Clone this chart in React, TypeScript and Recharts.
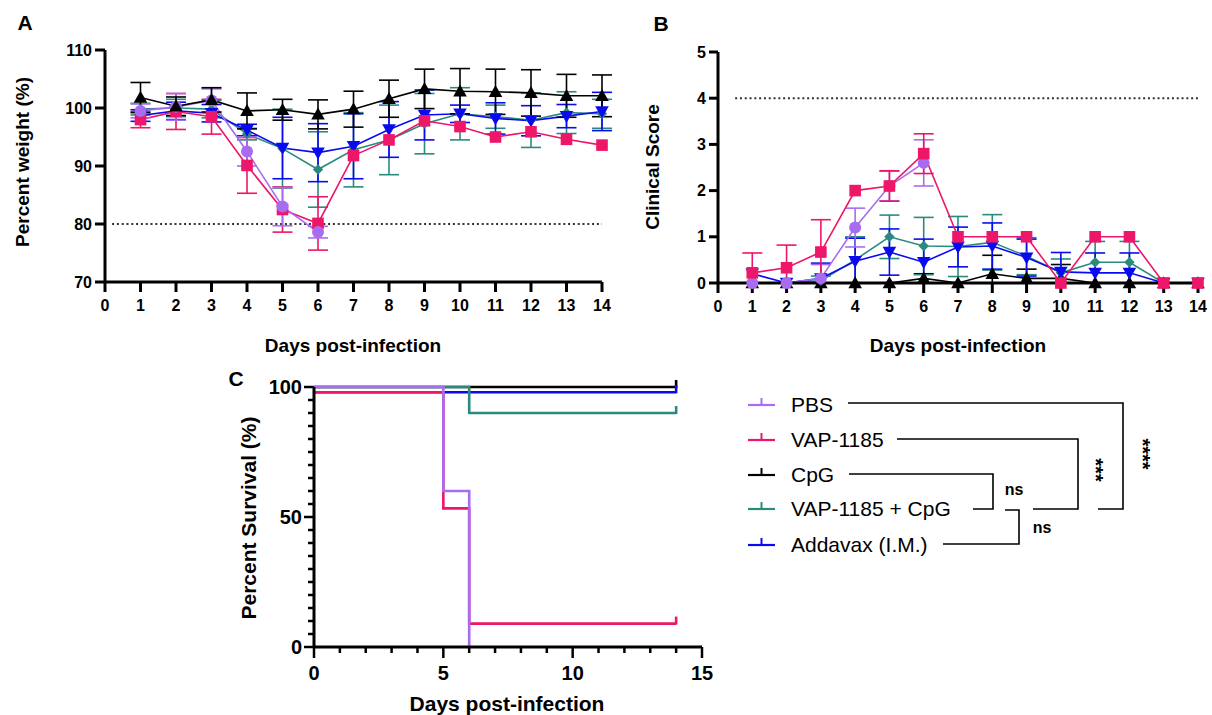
import React from 'react';
import { LineChart, Line, XAxis, YAxis, ErrorBar, ReferenceLine } from 'recharts';

const FONT = '"Liberation Sans", Arial, Helvetica, sans-serif';

// ---------- categories / ticks ----------
const days = [1, 2, 3, 4, 5, 6, 7, 8, 9, 10, 11, 12, 13, 14];
const dayTicks = [0, 1, 2, 3, 4, 5, 6, 7, 8, 9, 10, 11, 12, 13, 14];
const weightTicks = [70, 80, 90, 100, 110];
const scoreTicks = [0, 1, 2, 3, 4, 5];
const survXTicks = [0, 1, 2, 3, 4, 5, 6, 7, 8, 9, 10, 11, 12, 13, 14, 15];
const survYTicks = [0, 5, 10, 15, 20, 25, 30, 35, 40, 45, 50, 55, 60, 65, 70, 75, 80, 85, 90, 95, 100];
const groupNames = ['PBS', 'VAP-1185', 'CpG', 'VAP-1185 + CpG', 'Addavax (I.M.)'];

// ---------- Panel A: percent weight (mean, SD) ----------
const pbsW = [99.5, 100.2, 101.3, 92.5, 83.0, 78.6];
const pbsWsd = [1.2, 2.3, 2.0, 2.5, 3.3, 1.0];
const vapW = [98.0, 99.4, 98.5, 90.1, 82.5, 80.1, 91.8, 94.5, 97.8, 96.8, 95.0, 95.9, 94.6, 93.6];
const vapWsd = [1.4, 3.1, 3.0, 4.8, 3.9, 4.6, 0, 0, 0, 0, 0, 0, 0, 0];
const cpgW = [101.8, 100.3, 101.4, 99.5, 99.7, 98.9, 99.8, 101.6, 103.3, 102.9, 102.8, 102.6, 102.1, 102.1];
const cpgWsd = [2.6, 1.6, 2.1, 3.1, 1.8, 2.5, 3.1, 3.2, 3.4, 3.9, 3.9, 4.0, 3.7, 3.6];
const comboW = [99.8, 100.0, 99.8, 95.5, 93.0, 89.4, 92.8, 94.5, 97.3, 99.0, 98.5, 97.9, 99.2, 99.0];
const comboWsd = [1.0, 1.5, 1.5, 1.0, 6.8, 6.5, 6.4, 6.0, 5.2, 4.5, 2.0, 4.7, 3.6, 2.5];
const addaW = [98.7, 99.5, 99.1, 96.2, 93.1, 92.3, 93.4, 96.3, 98.8, 99.0, 98.2, 97.8, 98.6, 99.4];
const addaWsd = [1.0, 1.5, 1.5, 1.0, 5.3, 5.0, 5.6, 4.8, 4.3, 1.5, 2.7, 2.6, 2.0, 3.3];

// ---------- Panel B: clinical score (mean, SD) ----------
const pbsC = [0, 0, 0.1, 1.2, 2.1, 2.6];
const pbsCsd = [0, 0, 0.3, 0.42, 0.32, 0.5];
const vapC = [0.22, 0.33, 0.67, 2.0, 2.1, 2.8, 1, 1, 1, 0, 1, 1, 0, 0];
const vapCsd = [0.43, 0.49, 0.7, 0, 0.33, 0.43, 0, 0, 0, 0, 0, 0, 0, 0];
const cpgC = [0, 0, 0, 0, 0, 0.1, 0, 0.2, 0.1, 0.1, 0, 0, 0, 0];
const cpgCsd = [0, 0, 0, 0, 0, 0.1, 0, 0.4, 0.2, 0.3, 0, 0, 0, 0];
const comboC = [0, 0, 0.05, 0.5, 1.0, 0.8, 0.79, 0.88, 0.58, 0.22, 0.45, 0.45, 0, 0];
const comboCsd = [0, 0, 0.1, 0.5, 0.47, 0.62, 0.65, 0.6, 0.4, 0.3, 0.45, 0.45, 0, 0];
const addaC = [0.2, 0, 0.1, 0.47, 0.67, 0.45, 0.78, 0.8, 0.55, 0.24, 0.22, 0.22, 0, 0];
const addaCsd = [0, 0, 0.33, 0.5, 0.5, 0.5, 0.43, 0.5, 0.4, 0.42, 0.43, 0.43, 0, 0];

// ---------- Panel C: survival (step points) ----------
const survPBSdays = [0, 5, 6];
const survPBS = [100, 60, 0];
const survVAPdays = [0, 5, 6, 14];
const survVAP = [98, 53.3, 9, 9];
const survCpGdays = [0, 14];
const survCpG = [100, 100];
const survComboDays = [0, 6, 14];
const survCombo = [100, 90, 90];
const survAddaDays = [0, 14];
const survAdda = [98, 98];

// ---------- styles ----------
const C_PBS = '#A86CF0';
const C_VAP = '#EE1668';
const C_CPG = '#000000';
const C_COMBO = '#2B8A7E';
const C_ADDA = '#0A0AF0';

// error bars are drawn as [below, above]; the lower arm stops at the axis floor
const mk = (xs: number[], ys: number[], sds?: number[], floor = -Infinity) =>
  ys.map((v, i) => {
    const sd = sds ? sds[i] : 0;
    return { day: xs[i], v, sd: sd ? [Math.min(sd, v - floor), sd] : 0 };
  });

type Shape = 'circle' | 'square' | 'triUp' | 'triDown' | 'diamond';

function Marker({ cx, cy, shape, color }: { cx: number; cy: number; shape: Shape; color: string }) {
  if (cx == null || cy == null || isNaN(cx) || isNaN(cy)) return <g />;
  switch (shape) {
    case 'circle':
      return <circle cx={cx} cy={cy} r={6} fill={color} />;
    case 'square':
      return <rect x={cx - 5.8} y={cy - 5.8} width={11.6} height={11.6} fill={color} />;
    case 'triUp':
      return <polygon points={`${cx},${cy - 6.8} ${cx + 6.8},${cy + 5.2} ${cx - 6.8},${cy + 5.2}`} fill={color} />;
    case 'triDown':
      return <polygon points={`${cx},${cy + 6.8} ${cx + 6.8},${cy - 5.2} ${cx - 6.8},${cy - 5.2}`} fill={color} />;
    default:
      return <polygon points={`${cx},${cy - 5.2} ${cx + 5.2},${cy} ${cx},${cy + 5.2} ${cx - 5.2},${cy}`} fill={color} />;
  }
}

const dotFn = (shape: Shape, color: string) => (p: any) => (
  <Marker key={`d-${shape}-${p.index}`} cx={p.cx} cy={p.cy} shape={shape} color={color} />
);

const axisStyle = { stroke: '#000', strokeWidth: 3 };
const tickFont = { fill: '#000', fontSize: 16, fontWeight: 700, fontFamily: FONT };

const seriesA = [
  { key: 'combo', data: mk(days, comboW, comboWsd, 70), color: C_COMBO, shape: 'diamond' as Shape },
  { key: 'adda', data: mk(days, addaW, addaWsd, 70), color: C_ADDA, shape: 'triDown' as Shape },
  { key: 'vap', data: mk(days, vapW, vapWsd, 70), color: C_VAP, shape: 'square' as Shape },
  { key: 'pbs', data: mk(days, pbsW, pbsWsd, 70), color: C_PBS, shape: 'circle' as Shape },
  { key: 'cpg', data: mk(days, cpgW, cpgWsd, 70), color: C_CPG, shape: 'triUp' as Shape },
];

const seriesB = [
  { key: 'cpg', data: mk(days, cpgC, cpgCsd, 0), color: C_CPG, shape: 'triUp' as Shape },
  { key: 'combo', data: mk(days, comboC, comboCsd, 0), color: C_COMBO, shape: 'diamond' as Shape },
  { key: 'adda', data: mk(days, addaC, addaCsd, 0), color: C_ADDA, shape: 'triDown' as Shape },
  { key: 'pbs', data: mk(days, pbsC, pbsCsd, 0), color: C_PBS, shape: 'circle' as Shape },
  { key: 'vap', data: mk(days, vapC, vapCsd, 0), color: C_VAP, shape: 'square' as Shape },
];

const seriesC = [
  { key: 'cpg', data: mk(survCpGdays, survCpG), color: C_CPG, censor: true },
  { key: 'adda', data: mk(survAddaDays, survAdda), color: C_ADDA, censor: true },
  { key: 'combo', data: mk(survComboDays, survCombo), color: C_COMBO, censor: true },
  { key: 'vap', data: mk(survVAPdays, survVAP), color: C_VAP, censor: true },
  { key: 'pbs', data: mk(survPBSdays, survPBS), color: C_PBS, censor: false },
];

const legendColors = [C_PBS, C_VAP, C_CPG, C_COMBO, C_ADDA];

function renderSeries(list: typeof seriesA) {
  return list.map((s) => (
    <Line
      key={s.key}
      data={s.data}
      dataKey="v"
      type="linear"
      stroke={s.color}
      strokeWidth={1.6}
      dot={dotFn(s.shape, s.color)}
      activeDot={false}
      isAnimationActive={false}
    >
      <ErrorBar dataKey="sd" direction="y" width={10} stroke={s.color} strokeWidth={1.6} />
    </Line>
  ));
}

const CXTick = (props: any) => {
  const { x, y, payload } = props;
  const major = payload.value % 5 === 0;
  return (
    <g>
      <line x1={x} x2={x} y1={y} y2={y + (major ? 11 : 6)} stroke="#000" strokeWidth={2.5} />
      {major && (
        <text x={x} y={y + 33} textAnchor="middle" fontFamily={FONT} fontWeight={700} fontSize={20} fill="#000">
          {payload.value}
        </text>
      )}
    </g>
  );
};

const CYTick = (props: any) => {
  const { x, y, payload } = props;
  const major = payload.value % 50 === 0;
  return (
    <g>
      <line x1={x} x2={x - (major ? 10 : 6)} y1={y} y2={y} stroke="#000" strokeWidth={2.5} />
      {major && (
        <text x={x - 12} y={y + 7} textAnchor="end" fontFamily={FONT} fontWeight={700} fontSize={20} fill="#000">
          {payload.value}
        </text>
      )}
    </g>
  );
};

const T = ({ x, y, size, children, rotate, weight = 700, anchor = 'middle' }: any) => (
  <text
    x={x}
    y={y}
    fontFamily={FONT}
    fontSize={size}
    fontWeight={weight}
    textAnchor={anchor}
    dominantBaseline="central"
    fill="#000"
    transform={rotate ? `rotate(${rotate} ${x} ${y})` : undefined}
  >
    {children}
  </text>
);

export default function App() {
  const legendY = [404, 439, 474, 508, 544];
  return (
    <div style={{ position: 'absolute', left: 0, top: 0, width: 1212, height: 715, background: '#fff', overflow: 'hidden' }}>
      {/* Panel A */}
      <div style={{ position: 'absolute', left: 0, top: 0 }}>
        <LineChart width={620} height={360} margin={{ top: 50, right: 18, bottom: 0, left: 0 }}>
          <XAxis type="number" dataKey="day" domain={[0, 14]} ticks={dayTicks} interval={0} height={78}
            tickSize={10} tickMargin={8} axisLine={axisStyle} tickLine={axisStyle} tick={tickFont} />
          <YAxis type="number" domain={[70, 110]} ticks={weightTicks} interval={0} width={105}
            tickSize={10} tickMargin={3} axisLine={axisStyle} tickLine={axisStyle} tick={tickFont} />
          <ReferenceLine segment={[{ x: 0.2, y: 80 }, { x: 14, y: 80 }]} stroke="#333" strokeWidth={2} strokeDasharray="2 2.8" />
          {renderSeries(seriesA)}
        </LineChart>
      </div>

      {/* Panel B */}
      <div style={{ position: 'absolute', left: 620, top: 0 }}>
        <LineChart width={592} height={360} margin={{ top: 52, right: 14, bottom: 0, left: 0 }}>
          <XAxis type="number" dataKey="day" domain={[0, 14]} ticks={dayTicks} interval={0} height={77}
            tickSize={10} tickMargin={8} axisLine={axisStyle} tickLine={axisStyle} tick={tickFont} />
          <YAxis type="number" domain={[0, 5]} ticks={scoreTicks} interval={0} width={98}
            tickSize={9} tickMargin={3} axisLine={axisStyle} tickLine={axisStyle} tick={tickFont} />
          <ReferenceLine segment={[{ x: 0.5, y: 4 }, { x: 14, y: 4 }]} stroke="#333" strokeWidth={2} strokeDasharray="2 2.8" />
          {renderSeries(seriesB)}
        </LineChart>
      </div>

      {/* Panel C */}
      <div style={{ position: 'absolute', left: 200, top: 360 }}>
        <LineChart width={520} height={355} margin={{ top: 27, right: 18, bottom: 0, left: 0 }}>
          <XAxis type="number" dataKey="day" domain={[0, 15]} ticks={survXTicks} interval={0} height={68}
            tickSize={0} tickMargin={0} axisLine={axisStyle} tickLine={false} tick={CXTick} />
          <YAxis type="number" domain={[0, 100]} ticks={survYTicks} interval={0} width={114}
            tickSize={0} tickMargin={0} axisLine={axisStyle} tickLine={false} tick={CYTick} />
          {seriesC.map((s) => (
            <Line
              key={s.key}
              data={s.data}
              dataKey="v"
              type="stepAfter"
              stroke={s.color}
              strokeWidth={2.6}
              activeDot={false}
              isAnimationActive={false}
              dot={(p: any) =>
                s.censor && p.index === s.data.length - 1 ? (
                  <line key={`c-${s.key}`} x1={p.cx} x2={p.cx} y1={p.cy + 1} y2={p.cy - 7} stroke={s.color} strokeWidth={2.6} />
                ) : (
                  <g key={`c-${s.key}-${p.index}`} />
                )
              }
            />
          ))}
        </LineChart>
      </div>

      {/* Overlay: labels, legend, brackets */}
      <svg width={1212} height={715} style={{ position: 'absolute', left: 0, top: 0, pointerEvents: 'none' }}>
        <T x={25} y={22} size={21}>A</T>
        <T x={661} y={23} size={21}>B</T>
        <T x={236} y={378} size={21}>C</T>

        <T x={353} y={345} size={19}>Days post-infection</T>
        <T x={22} y={162} size={19} rotate={-90}>Percent weight (%)</T>
        <T x={958} y={345} size={19}>Days post-infection</T>
        <T x={652} y={167} size={19} rotate={-90}>Clinical Score</T>
        <T x={507} y={703} size={21}>Days post-infection</T>
        <T x={248} y={518} size={21} rotate={-90}>Percent Survival (%)</T>

        {groupNames.map((g, i) => (
          <g key={g}>
            <line x1={748} x2={775} y1={legendY[i] + 1} y2={legendY[i] + 1} stroke={legendColors[i]} strokeWidth={2.2} />
            <line x1={761.5} x2={761.5} y1={legendY[i] + 1} y2={legendY[i] - 6} stroke={legendColors[i]} strokeWidth={2} />
            <T x={791} y={legendY[i]} size={21} weight={400} anchor="start">{g}</T>
          </g>
        ))}

        <g stroke="#000" strokeWidth={1.6} fill="none">
          <polyline points="848,403 1123,403 1123,509 1098,509" />
          <polyline points="897,439 1078,439 1078,509 1033,509" />
          <polyline points="849,474 993,474 993,509 973,509" />
          <polyline points="943,544 1019,544 1019,510 1005,510" />
        </g>
        <T x={1014} y={489} size={16}>ns</T>
        <T x={1042} y={527} size={16}>ns</T>
        <T x={1096} y={470} size={20} rotate={90}>***</T>
        <T x={1143} y={454} size={20} rotate={90}>****</T>
      </svg>
    </div>
  );
}
